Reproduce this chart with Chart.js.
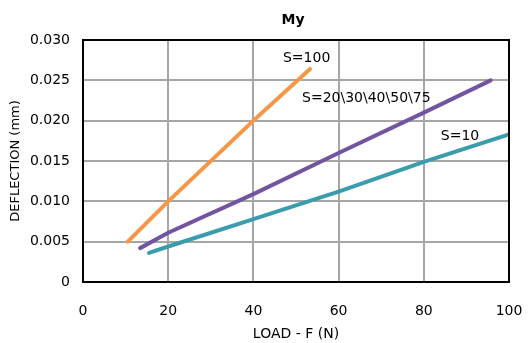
<!DOCTYPE html>
<html lang="en">
<head>
    <meta charset="UTF-8">
    <title>My - Deflection vs Load</title>
    <script src="https://cdn.jsdelivr.net/npm/chart.js"></script>
    <style>
        html, body {
            margin: 0;
            padding: 0;
            background: #ffffff;
        }
        .chart-box {
            width: 530px;
            height: 343px;
            position: relative;
        }
    </style>
</head>
<body>
    <div class="chart-box">
        <canvas id="deflectionChart"></canvas>
    </div>

    <script>
        // Data
        const loadS100 = [10.5, 20, 40, 53.3];
        const deflS100 = [0.0050, 0.0100, 0.0200, 0.0264];

        const loadS20to75 = [13.4, 20, 40, 60, 80, 95.7];
        const deflS20to75 = [0.0042, 0.0061, 0.0109, 0.0160, 0.0210, 0.0250];

        const loadS10 = [15.5, 20, 40, 60, 80, 100];
        const deflS10 = [0.0036, 0.0044, 0.0078, 0.0112, 0.0149, 0.0183];

        const seriesNames = ['S=100', 'S=20\\30\\40\\50\\75', 'S=10'];
        const seriesColors = ['#f79646', '#7254a0', '#3a9cad'];

        // where the series labels sit, in data units
        const labelX = [52.5, 66.5, 88.5];
        const labelY = [0.0277, 0.0228, 0.0180];

        const xTicks = [0, 20, 40, 60, 80, 100];
        const yTicks = [0, 0.005, 0.010, 0.015, 0.020, 0.025, 0.030];

        const fontFamily = '"DejaVu Sans", sans-serif';

        function toPoints(xs, ys) {
            return xs.map((x, i) => ({ x: x, y: ys[i] }));
        }

        const allSeries = [
            toPoints(loadS100, deflS100),
            toPoints(loadS20to75, deflS20to75),
            toPoints(loadS10, deflS10)
        ];

        // frame, title and series labels
        const extrasPlugin = {
            id: 'extras',
            afterDraw(chart) {
                const c = chart.ctx;
                const area = chart.chartArea;
                const xs = chart.scales.x;
                const ys = chart.scales.y;

                c.save();
                c.strokeStyle = '#000000';
                c.lineWidth = 2;
                c.strokeRect(area.left, area.top, area.right - area.left, area.bottom - area.top);

                c.fillStyle = '#000000';
                c.textAlign = 'center';
                c.textBaseline = 'middle';
                c.font = 'bold 14px ' + fontFamily;
                c.fillText('My', (area.left + area.right) / 2 - 3, 20);

                c.font = '14px ' + fontFamily;
                seriesNames.forEach((name, i) => {
                    c.fillText(name, xs.getPixelForValue(labelX[i]), ys.getPixelForValue(labelY[i]));
                });
                c.restore();
            }
        };

        const ctx = document.getElementById('deflectionChart').getContext('2d');
        const deflectionChart = new Chart(ctx, {
            type: 'scatter',
            data: {
                datasets: allSeries.map((pts, i) => ({
                    label: seriesNames[i],
                    data: pts,
                    showLine: true,
                    borderColor: seriesColors[i],
                    backgroundColor: seriesColors[i],
                    borderWidth: 4,
                    pointRadius: 0,
                    borderCapStyle: 'round',
                    tension: 0
                }))
            },
            options: {
                responsive: true,
                maintainAspectRatio: false,
                animation: false,
                layout: {
                    padding: { top: 40, right: 0, left: 0, bottom: 0 }
                },
                plugins: {
                    legend: { display: false },
                    tooltip: { enabled: false },
                    title: { display: false }
                },
                scales: {
                    x: {
                        type: 'linear',
                        min: 0,
                        max: 100,
                        afterBuildTicks(scale) {
                            scale.ticks = xTicks.map(v => ({ value: v }));
                        },
                        afterFit(scale) {
                            scale.height = 61;
                            scale.paddingRight = 21;
                        },
                        grid: {
                            color: '#a6a6a6',
                            lineWidth: 2,
                            drawTicks: false
                        },
                        border: { display: false },
                        ticks: {
                            color: '#000000',
                            padding: 21,
                            maxRotation: 0,
                            font: { family: fontFamily, size: 14 }
                        },
                        title: {
                            display: true,
                            text: 'LOAD - F (N)',
                            color: '#000000',
                            font: { family: fontFamily, size: 14 },
                            padding: { top: 0, bottom: 0 }
                        }
                    },
                    y: {
                        type: 'linear',
                        min: 0,
                        max: 0.03,
                        afterBuildTicks(scale) {
                            scale.ticks = yTicks.map(v => ({ value: v }));
                        },
                        afterFit(scale) {
                            scale.width = 83;
                        },
                        grid: {
                            color: '#a6a6a6',
                            lineWidth: 2,
                            drawTicks: false
                        },
                        border: { display: false },
                        ticks: {
                            color: '#000000',
                            padding: 13,
                            font: { family: fontFamily, size: 14 },
                            callback: function(value) {
                                return value === 0 ? '0' : value.toFixed(3);
                            }
                        },
                        title: {
                            display: true,
                            text: 'DEFLECTION (mm)',
                            color: '#000000',
                            font: { family: fontFamily, size: 13 },
                            padding: { top: 8, bottom: 4 }
                        }
                    }
                }
            },
            plugins: [extrasPlugin]
        });
    </script>
</body>
</html>
